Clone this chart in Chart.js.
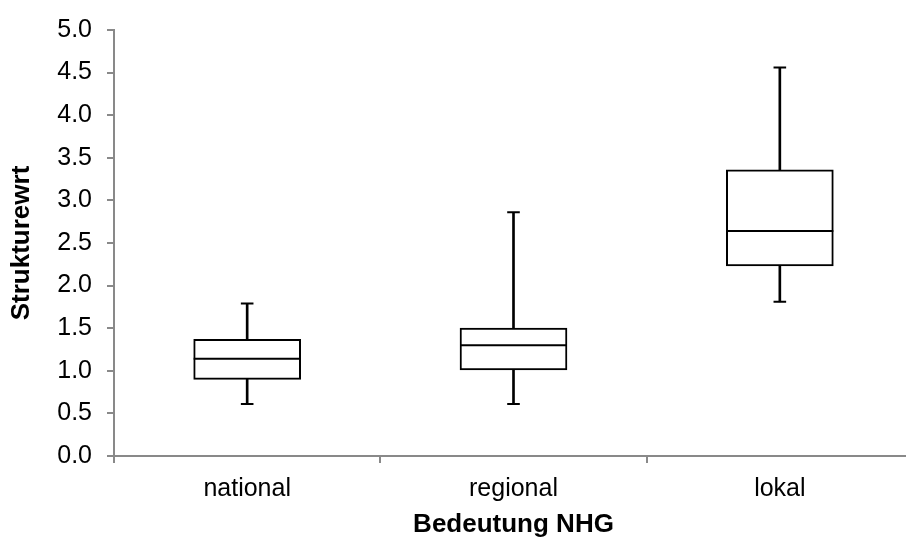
<!DOCTYPE html>
<html>
<head>
<meta charset="utf-8">
<script src="https://cdn.jsdelivr.net/npm/chart.js@4.4.1/dist/chart.umd.min.js"></script>
<style>
  html, body { margin: 0; padding: 0; background: #ffffff; overflow: hidden; }
  #wrap { width: 906px; height: 538px; overflow: hidden; position: relative; }
  #c { position: absolute; left: 0; top: 0; }
</style>
</head>
<body>
<div id="wrap"><canvas id="c" width="913" height="538"></canvas></div>
<script>
const categories = ['national', 'regional', 'lokal'];
const minVals    = [0.61, 0.61, 1.81];
const q1Vals     = [0.90, 1.01, 2.23];
const medianVals = [1.14, 1.30, 2.64];
const q3Vals     = [1.37, 1.50, 3.36];
const maxVals    = [1.79, 2.86, 4.56];
const yTicks     = [0, 0.5, 1, 1.5, 2, 2.5, 3, 3.5, 4, 4.5, 5];
const yTitle = 'Strukturewrt';
const xTitle = 'Bedeutung NHG';

const FONT = "'Liberation Sans', Arial, sans-serif";
const AXIS_GREY = '#898989';

const lowerWhisker = categories.map((c, i) => [minVals[i], q1Vals[i]]);
const upperWhisker = categories.map((c, i) => [q3Vals[i], maxVals[i]]);
const boxes = categories.map((c, i) => [q1Vals[i], q3Vals[i]]);

Chart.defaults.font.family = FONT;

new Chart(document.getElementById('c'), {
  data: {
    labels: categories,
    datasets: [
      { type: 'bar', data: lowerWhisker, barThickness: 2, backgroundColor: '#000', borderWidth: 0, grouped: false, order: 5 },
      { type: 'bar', data: upperWhisker, barThickness: 2, backgroundColor: '#000', borderWidth: 0, grouped: false, order: 5 },
      { type: 'bar', data: boxes, barThickness: 107, backgroundColor: '#fff', borderColor: '#000', borderWidth: 2, borderSkipped: false, grouped: false, order: 4 },
      { type: 'line', data: medianVals, showLine: false, pointStyle: 'line', pointRadius: 53.5, pointBorderWidth: 2, borderColor: '#000', backgroundColor: '#000', order: 1 },
      { type: 'line', data: minVals, showLine: false, pointStyle: 'line', pointRadius: 6.3, pointBorderWidth: 2, borderColor: '#000', backgroundColor: '#000', order: 1 },
      { type: 'line', data: maxVals, showLine: false, pointStyle: 'line', pointRadius: 6.3, pointBorderWidth: 2, borderColor: '#000', backgroundColor: '#000', order: 1 }
    ]
  },
  options: {
    responsive: false,
    animation: false,
    events: [],
    layout: { autoPadding: false, padding: { top: 26, right: 0, bottom: 0, left: 0 } },
    plugins: { legend: { display: false }, tooltip: { enabled: false } },
    scales: {
      x: {
        type: 'category',
        offset: true,
        afterFit(scale) { scale.height = 82; },
        grid: { display: true, offset: true, drawOnChartArea: false, drawTicks: true, tickLength: 7, color: AXIS_GREY, lineWidth: 2 },
        border: { display: true, color: AXIS_GREY, width: 2 },
        ticks: { color: '#000', font: { size: 25, family: FONT }, padding: 11, maxRotation: 0 },
        title: { display: true, text: xTitle, color: '#000', font: { size: 26, weight: 'bold', family: FONT, lineHeight: 1.0 }, padding: { top: 0, bottom: 0 } }
      },
      y: {
        type: 'linear',
        min: 0,
        max: 5,
        afterFit(scale) { scale.width = 114; },
        afterBuildTicks(scale) { scale.ticks = yTicks.map(v => ({ value: v })); },
        grid: { display: true, drawOnChartArea: false, drawTicks: true, tickLength: 7, color: AXIS_GREY, lineWidth: 2 },
        border: { display: true, color: AXIS_GREY, width: 2 },
        ticks: { color: '#000', font: { size: 25, family: FONT }, padding: 15, callback: v => Number(v).toFixed(1) },
        title: { display: true, text: yTitle, color: '#000', font: { size: 26, weight: 'bold', family: FONT, lineHeight: 1.0 }, padding: { top: 9, bottom: 0 } }
      }
    }
  }
});
</script>
</body>
</html>
